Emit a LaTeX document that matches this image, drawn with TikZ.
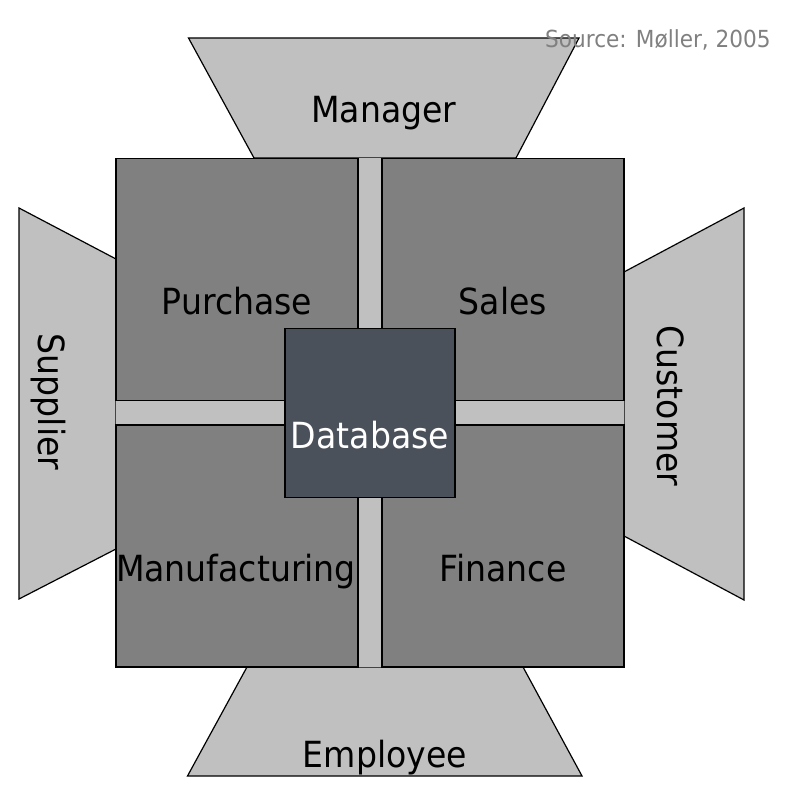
\documentclass[tikz,border=0pt]{standalone}
\usepackage{fontspec}
\setmainfont{DejaVu Sans}[FakeStretch=0.92]
\usetikzlibrary{positioning}
\definecolor{panelgray}{HTML}{C0C0C0}
\definecolor{boxgray}{HTML}{808080}
\definecolor{dbslate}{HTML}{4B515B}
\tikzset{
    actor/.style={draw, line width=1.2pt, fill=panelgray},
    module/.style={rectangle, draw, line width=1.2pt, fill=boxgray, minimum width=242pt, minimum height=242pt, inner sep=0pt},
    core/.style={rectangle, draw, line width=1.2pt, fill=dbslate, minimum width=170pt, minimum height=169pt, inner sep=0pt},
    unitname/.style={font=\fontsize{36}{40}\selectfont, anchor=base, inner sep=0pt}
}

\begin{document}
\begin{tikzpicture}[x=1pt, y=-1pt]
            \useasboundingbox (0,0) rectangle (788,786);

            % outer partners
            \draw[actor] (188.5,38) -- (579,38) -- (516,158) -- (254,158) -- cycle;
            \draw[actor] (19,208) -- (116,259) -- (116,549) -- (19,599) -- cycle;
            \draw[actor] (744,208) -- (744,600) -- (624,536) -- (624,272) -- cycle;
            \draw[actor] (247,667) -- (523,667) -- (582,776) -- (187.5,776) -- cycle;
            \fill[panelgray] (116,158) rectangle (624,667);

            % company modules
            \node[module] (purchasebox) at (237,279.5) {};
            \node[module] (salesbox) at (503,279.5) {};
            \node[module] (manufacturingbox) at (237,546) {};
            \node[module] (financebox) at (503,546) {};
            \node[core] (databasebox) at (370,412.8) {};

            \node[unitname] (manager) at (384,123) {Manager};
            \node[unitname] (employee) at (385,767) {Employee};
            \node[unitname, rotate=-90] (supplier) at (38,402) {Supplier};
            \node[unitname, rotate=-90] (customer) at (657,406) {Customer};

            \node[unitname] (purchase) at (237,315) {Purchase};
            \node[unitname] (sales) at (503,315) {Sales};
            \node[unitname] (manufacturing) at (236,581.5) {Manufacturing};
            \node[unitname] (finance) at (503,581.5) {Finance};
            \node[unitname, text=white] (database) at (370,448.5) {Database};

            \node[font=\fontsize{23.5}{26}\selectfont, text=boxgray, anchor=base west, inner sep=0pt] (source) at (545,48) {Source: Møller, 2005};
        \end{tikzpicture}
\end{document}
